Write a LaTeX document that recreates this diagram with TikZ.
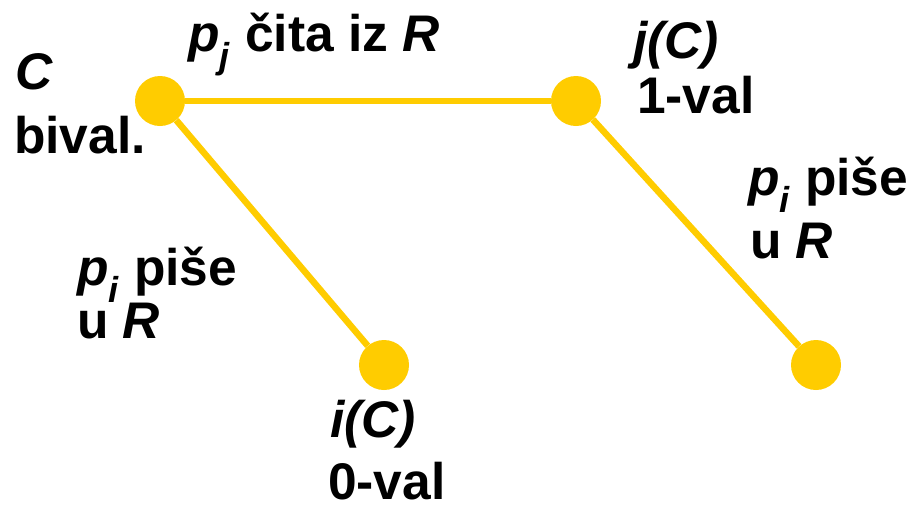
\documentclass[tikz,border=0pt]{standalone}
\usepackage{fontspec}
\setmainfont{Liberation Sans}
\definecolor{dotyellow}{HTML}{FFCC00}
\begin{document}
\begin{tikzpicture}[x=1pt,y=-1pt,
  dot/.style={circle,fill=dotyellow,minimum size=50pt,inner sep=0pt},
  conn/.style={draw=dotyellow,line width=6.5pt},
  lbl/.style={anchor=base west,inner sep=0pt,font=\fontsize{51.5}{60}\selectfont\bfseries}]
\useasboundingbox (0,0) rectangle (915,504);
\node[dot] (c) at (160,101) {};
\node[dot] (j) at (576,101) {};
\node[dot] (i) at (384,365) {};
\node[dot] (r) at (816,365) {};
\draw[conn] (c) -- (j);
\draw[conn] (c) -- (i);
\draw[conn] (j) -- (r);
\node[lbl] (cl) at (15,89) {\itshape C};
\node[lbl] (bv) at (14,153) {bival.};
\node[lbl] (top) at (188,51) {\textit{p}\textsubscript{\textit{j}} čita iz \textit{R}};
\node[lbl] (jc) at (633,58) {\itshape j(C)};
\node[lbl] (v1) at (637,113) {1-val};
\node[lbl] (rp) at (748,195) {\textit{p}\textsubscript{\textit{i}} piše};
\node[lbl] (ru) at (750,258) {u \textit{R}};
\node[lbl] (lp) at (77,285) {\textit{p}\textsubscript{\textit{i}} piše};
\node[lbl] (lu) at (77,338) {u \textit{R}};
\node[lbl] (ic) at (330,437) {\itshape i(C)};
\node[lbl] (v0) at (328,499) {0-val};
\end{tikzpicture}
\end{document}
